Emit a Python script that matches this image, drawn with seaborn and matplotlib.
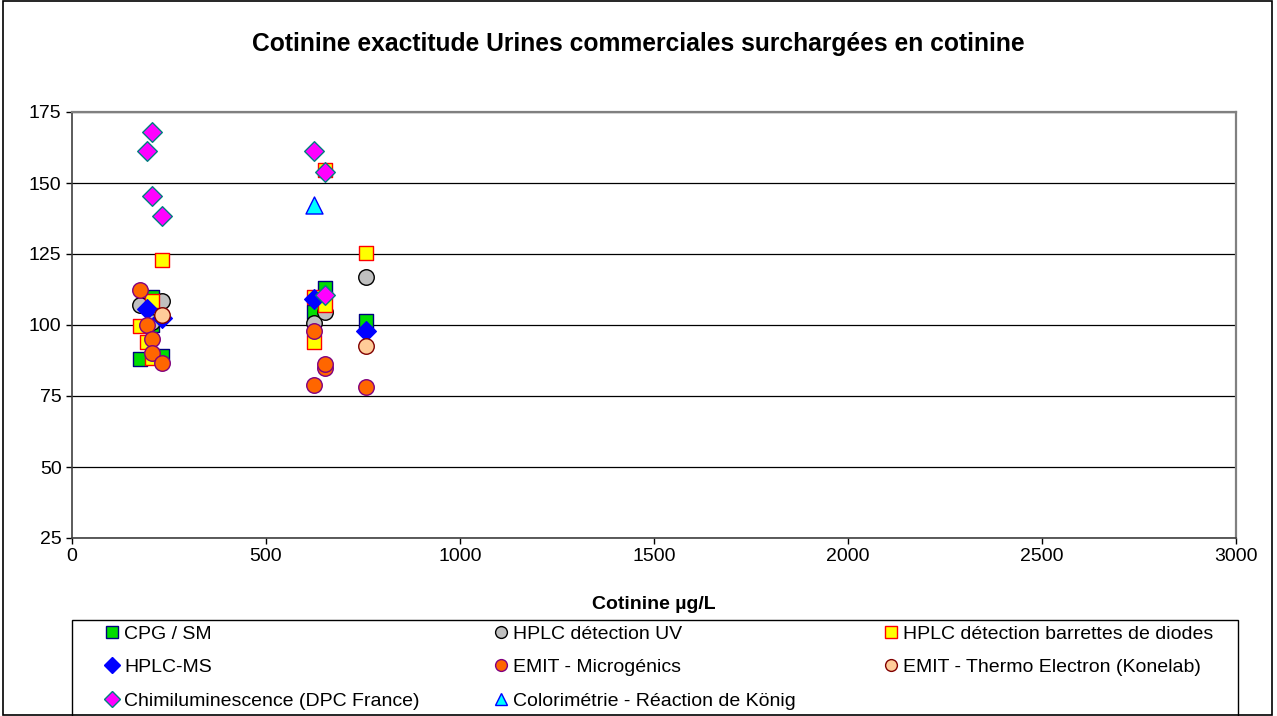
import seaborn as sns
import matplotlib.pyplot as plt
import pandas as pd
from matplotlib.lines import Line2D
from matplotlib.patches import Rectangle

## A. (x = cotinine ug/L, y = recovery %)
cpg_x = [175, 205, 205, 231, 624, 652, 758]
cpg_y = [88, 110, 100, 89, 104.6, 113, 101.5]

uv_x = [175, 231, 205, 624, 652, 758]
uv_y = [107, 108.5, 101, 100.7, 104.5, 117]

dad_x = [175, 193, 205, 205, 231, 624, 624, 652, 652, 758]
dad_y = [99.6, 94, 108.5, 88.5, 123, 110, 94, 154.5, 107, 125.4]

ms_x = [193, 231, 624, 758]
ms_y = [105.5, 102.5, 109, 98]

emit_m_x = [175, 193, 205, 205, 231, 624, 624, 652, 652, 758]
emit_m_y = [112.3, 100, 95, 90.3, 86.5, 79, 98, 85, 86.3, 78]

emit_t_x = [231, 758]
emit_t_y = [103.5, 92.6]

chimi_x = [193, 205, 205, 231, 624, 652, 652]
chimi_y = [161.3, 168, 145.5, 138.5, 161.3, 154, 110.6]

color_x = [624]
color_y = [142.3]

names = ["CPG / SM", "HPLC détection UV", "HPLC détection barrettes de diodes",
         "HPLC-MS", "EMIT - Microgénics", "EMIT - Thermo Electron (Konelab)",
         "Chimiluminescence (DPC France)", "Colorimétrie - Réaction de König"]
xs = [cpg_x, uv_x, dad_x, ms_x, emit_m_x, emit_t_x, chimi_x, color_x]
ys = [cpg_y, uv_y, dad_y, ms_y, emit_m_y, emit_t_y, chimi_y, color_y]

# marker, face, edge, size
styles = [("s", "#00dd00", "#000080", 115),
          ("o", "#c0c0c0", "#000000", 125),
          ("s", "#ffff00", "#ff0000", 115),
          ("D", "#0000ff", "#0000ff", 100),
          ("o", "#ff6600", "#800080", 125),
          ("o", "#ffcc99", "#800000", 125),
          ("D", "#ff00ff", "#008080", 100),
          ("^", "#00ffff", "#0000ff", 150)]

## B. Plot
sns.set_style("white")
plt.rcParams['font.family'] = ['Liberation Sans', 'DejaVu Sans']
plt.rcParams['text.color'] = 'black'

W, H = 1277, 716
fig = plt.figure(figsize=(W / 100, H / 100), dpi=100)
ax = fig.add_axes([72 / W, 1 - 538 / H, (1236 - 72) / W, (538 - 112) / H])

for name, x, y, st in zip(names, xs, ys, styles):
    df = pd.DataFrame({"x": x, "y": y})
    sns.scatterplot(data=df, x="x", y="y", ax=ax, marker=st[0], color=st[1],
                    edgecolor=st[2], linewidth=1.0, s=st[3], zorder=3)

ax.set_xlim(0, 3000)
ax.set_ylim(25, 175)
ax.set_xticks(range(0, 3001, 500))
ax.set_yticks(range(25, 176, 25))
ax.yaxis.grid(True, color="#000000", linewidth=0.9)
ax.set_axisbelow(True)
ax.tick_params(axis="both", labelsize=14, direction="out", length=4, width=1,
               bottom=True, left=True, colors="#000000", labelcolor="#000000")
for side in ["top", "right"]:
    ax.spines[side].set_color("#808080")
    ax.spines[side].set_linewidth(1.6)
for side in ["left", "bottom"]:
    ax.spines[side].set_color("#404040")
    ax.spines[side].set_linewidth(1.2)

ax.set_xlabel("Cotinine µg/L", fontsize=14, fontweight="bold", labelpad=22, color="black")
ax.set_ylabel("")
fig.suptitle("Cotinine exactitude Urines commerciales surchargées en cotinine",
             x=0.5, y=1 - 44 / H, va="center", fontsize=17.7, fontweight="bold",
             color="black")

## C. Legend: boxed, three columns like the excel one
handles = []
for st in styles:
    handles.append(Line2D([], [], linestyle="", marker=st[0], markerfacecolor=st[1],
                          markeredgecolor=st[2], markersize=8.5 if st[0] != "D" else 8,
                          markeredgewidth=1.0))
cols = [[0, 3, 6], [1, 4, 7], [2, 5]]
col_left = [102, 491, 881]
for idx, left in zip(cols, col_left):
    leg = fig.legend([handles[i] for i in idx], [names[i] for i in idx],
                     loc="upper left", bbox_to_anchor=(left / W, 1 - 625 / H),
                     fontsize=14, frameon=False, handletextpad=0.15,
                     labelspacing=0.82, borderpad=0, borderaxespad=0,
                     handlelength=1.0)
    for t in leg.get_texts():
        t.set_color("black")

fig.patches.append(Rectangle((72 / W, -0.05), (1238 - 72) / W, 0.05 + 96 / H,
                             transform=fig.transFigure, fill=False,
                             edgecolor="#000000", linewidth=1.0))
fig.patches.append(Rectangle((0.002, 0.002), 0.994, 0.996, transform=fig.transFigure,
                             fill=False, edgecolor="#000000", linewidth=1.2))

plt.savefig("out.png", dpi=100)
